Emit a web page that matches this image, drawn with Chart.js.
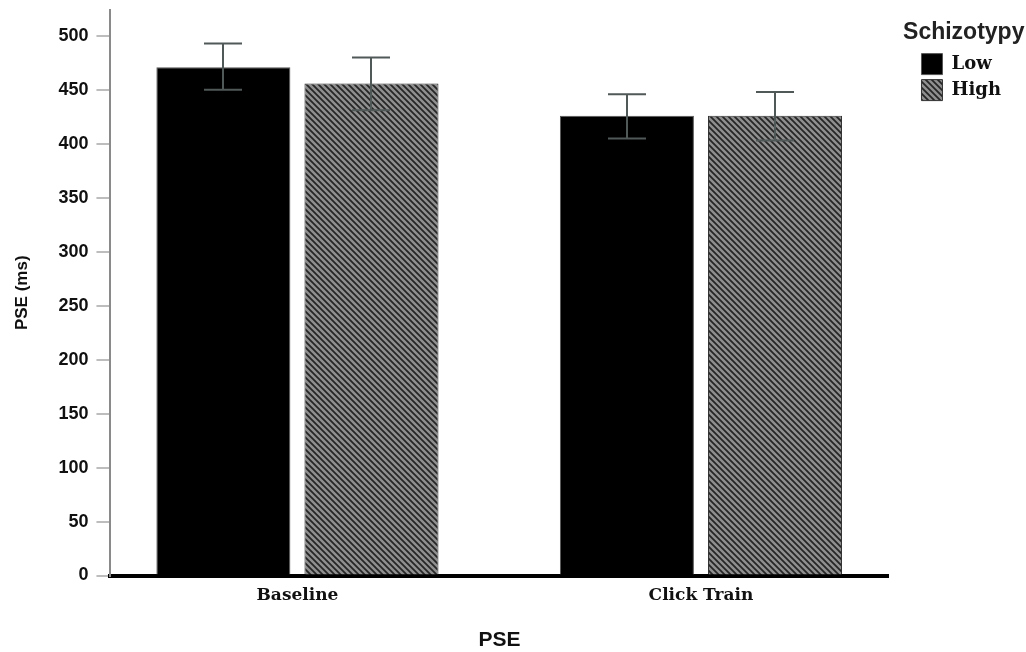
<!DOCTYPE html>
<html>
<head>
<meta charset="utf-8">
<script src="https://cdn.jsdelivr.net/npm/chart.js@4/dist/chart.umd.min.js"></script>
<style>
  body { margin: 0; background: #fff; }
  #wrap { width: 1026px; height: 652px; }
</style>
</head>
<body>
<div id="wrap"><canvas id="chart" width="1026" height="652"></canvas></div>
<script>
// data
const categories = ['Baseline', 'Click Train'];
const groups = ['Low', 'High'];
const lowMeans = [471, 426];
const highMeans = [456, 426];
const lowErrLow = [450, 405];
const lowErrHigh = [493, 446];
const highErrLow = [431, 403];
const highErrHigh = [480, 448];
const yTicks = [0, 50, 100, 150, 200, 250, 300, 350, 400, 450, 500];

// diagonal hatch for the "High" bars
function makeHatch() {
    const c = document.createElement('canvas');
    c.width = 6; c.height = 6;
    const g = c.getContext('2d');
    g.fillStyle = '#8f8f8f';
    g.fillRect(0, 0, 6, 6);
    g.strokeStyle = '#262626';
    g.lineWidth = 1.8;
    g.beginPath();
    g.moveTo(-1, -1); g.lineTo(7, 7);
    g.moveTo(-1, 5); g.lineTo(1, 7);
    g.moveTo(5, -1); g.lineTo(7, 1);
    g.stroke();
    return g.createPattern(c, 'repeat');
}

const errors = [
    { lo: lowErrLow, hi: lowErrHigh },
    { lo: highErrLow, hi: highErrHigh }
];

const errorBars = {
    id: 'errorBars',
    afterDatasetsDraw(chart) {
        const ctx = chart.ctx;
        const yScale = chart.scales.y;
        ctx.save();
        ctx.strokeStyle = '#505858';
        ctx.lineWidth = 2;
        chart.data.datasets.forEach((ds, i) => {
            const meta = chart.getDatasetMeta(i);
            meta.data.forEach((bar, j) => {
                const x = Math.round(bar.x);
                const yl = yScale.getPixelForValue(errors[i].lo[j]);
                const yh = yScale.getPixelForValue(errors[i].hi[j]);
                const half = 19;
                ctx.beginPath();
                ctx.moveTo(x, yl); ctx.lineTo(x, yh);
                ctx.moveTo(x - half, yh); ctx.lineTo(x + half, yh);
                ctx.moveTo(x - half, yl); ctx.lineTo(x + half, yl);
                ctx.stroke();
            });
        });
        ctx.restore();
    }
};

// the legend title is wider than the legend box, so draw it without clipping
const legendNoClip = {
    id: 'legendNoClip',
    afterInit(chart) {
        const lg = chart.legend;
        lg.draw = function () {
            if (this.options.display) this._draw();
        };
    }
};

const hatch = makeHatch();
const sans = '"Liberation Sans", Arial, sans-serif';
const serif = '"DejaVu Serif", serif';

new Chart(document.getElementById('chart'), {
    type: 'bar',
    data: {
        datasets: [
            {
                label: groups[0],
                data: lowMeans.map((v, i) => ({ x: i, y: v })),
                backgroundColor: '#000000',
                borderColor: '#555555',
                borderWidth: 1,
                barPercentage: 0.905,
                categoryPercentage: 0.734
            },
            {
                label: groups[1],
                data: highMeans.map((v, i) => ({ x: i, y: v })),
                backgroundColor: hatch,
                borderColor: '#333333',
                borderWidth: 1,
                barPercentage: 0.905,
                categoryPercentage: 0.734
            }
        ]
    },
    options: {
        responsive: false,
        animation: false,
        layout: { padding: { left: 12, right: 15, top: 10, bottom: 0 } },
        plugins: {
            tooltip: { enabled: false },
            legend: {
                position: 'right',
                align: 'start',
                title: {
                    display: true,
                    text: 'Schizotypy',
                    color: '#222',
                    font: { family: sans, size: 23, weight: 'bold' },
                    padding: { top: 11, bottom: 0 }
                },
                labels: {
                    color: '#111',
                    boxWidth: 21,
                    boxHeight: 21,
                    padding: 5,
                    font: { family: serif, size: 18, weight: 'bold' }
                }
            }
        },
        scales: {
            x: {
                type: 'linear',
                offset: false,
                min: -0.4634,
                max: 1.4647,
                afterBuildTicks: s => { s.ticks = [0, 1].map(v => ({ value: v })); },
                ticks: {
                    color: '#111',
                    padding: 10,
                    font: { family: serif, size: 17, weight: 'bold' },
                    callback: v => categories[v] ?? ''
                },
                grid: { display: false, drawTicks: false },
                border: { display: true, color: '#000', width: 4 },
                title: {
                    display: true,
                    text: 'PSE',
                    color: '#111',
                    font: { family: sans, size: 21, weight: 'bold', lineHeight: 1.1 },
                    padding: { top: 13, bottom: 0 }
                }
            },
            y: {
                min: 0,
                max: 524,
                afterBuildTicks: s => { s.ticks = yTicks.map(v => ({ value: v })); },
                afterFit: s => { s.paddingTop = 0; },
                ticks: {
                    color: '#111',
                    padding: 8,
                    font: { family: sans, size: 18, weight: 'bold' }
                },
                grid: {
                    drawOnChartArea: false,
                    drawTicks: true,
                    tickLength: 14,
                    color: '#bdbdbd',
                    lineWidth: 2
                },
                border: { display: true, color: '#8a8a8a', width: 2 },
                title: {
                    display: true,
                    text: 'PSE (ms)',
                    color: '#111',
                    font: { family: sans, size: 17, weight: 'bold' },
                    padding: { top: 0, bottom: 18 }
                }
            },
            // empty spacer between the plot and the legend
            spacer: {
                type: 'linear',
                position: 'right',
                ticks: { display: false },
                grid: { display: false },
                border: { display: false },
                afterFit: s => { s.width = 28; }
            }
        }
    },
    plugins: [errorBars, legendNoClip]
});
</script>
</body>
</html>
